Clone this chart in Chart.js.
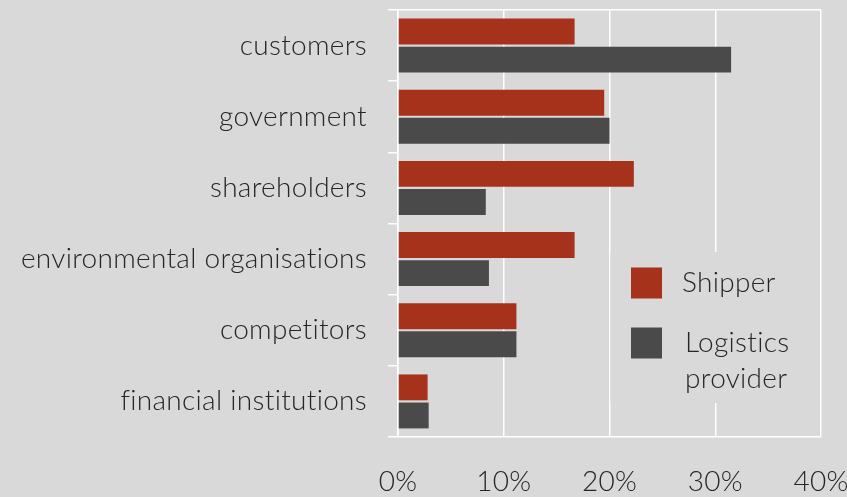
<!DOCTYPE html>
<html>
<head>
<meta charset="utf-8">
<script src="https://cdn.jsdelivr.net/npm/chart.js@4/dist/chart.umd.min.js"></script>
<style>
  html, body { margin: 0; padding: 0; background: #d9d9d9; }
  #wrap { width: 847px; height: 497px; }
</style>
</head>
<body>
<div id="wrap"><canvas id="chart"></canvas></div>
<script>
const categories = ['customers', 'government', 'shareholders', 'environmental organisations', 'competitors', 'financial institutions'];
const shipper = [16.7, 19.5, 22.3, 16.7, 11.2, 2.8];
const logistics = [31.5, 20.0, 8.3, 8.6, 11.2, 2.9];
const seriesNames = ['Shipper', 'Logistics provider'];
const xTicks = [0, 10, 20, 30, 40];

const FONT = 'Lato, "Open Sans", sans-serif';
const TEXT = '#262626';

// a little letter spacing keeps Lato from joining "fi"/"ti" into ligatures
const noLigatures = {
    id: 'noLigatures',
    beforeDraw(chart) { chart.ctx.letterSpacing = '0.3px'; }
};

// legend drawn as a box over the plot, like the original
const boxLegend = {
    id: 'boxLegend',
    afterDraw(chart) {
        const ctx = chart.ctx;
        const x = chart.scales.x;
        const left = x.getPixelForValue(20) + 1;
        const right = x.getPixelForValue(40) - 1;
        ctx.save();
        ctx.fillStyle = '#d9d9d9';
        ctx.fillRect(left, 252, right - left, 151);
        ctx.font = '300 28px ' + FONT;
        ctx.fillStyle = TEXT;
        ctx.textBaseline = 'middle';
        const rows = [283, 343];
        chart.data.datasets.forEach((ds, i) => {
            ctx.fillStyle = ds.backgroundColor;
            ctx.fillRect(631, rows[i] - 15.5, 31, 31);
            ctx.fillStyle = TEXT;
            const words = i === 0 ? [ds.label] : ds.label.split(' ');
            words.forEach((w, j) => ctx.fillText(w, i === 0 ? 682 : 685, rows[i] + j * 36));
        });
        ctx.restore();
    }
};

new Chart(document.getElementById('chart'), {
    type: 'bar',
    data: {
        labels: categories,
        datasets: [
            { label: seriesNames[0], data: shipper, backgroundColor: '#a6321c' },
            { label: seriesNames[1], data: logistics, backgroundColor: '#4a4a4a' }
        ]
    },
    options: {
        indexAxis: 'y',
        responsive: true,
        maintainAspectRatio: false,
        animation: false,
        layout: { padding: { top: 10, right: 26, left: 0, bottom: 0 } },
        datasets: { bar: { categoryPercentage: 0.79, barPercentage: 0.92 } },
        plugins: {
            legend: { display: false },
            tooltip: { enabled: false }
        },
        scales: {
            x: {
                min: 0,
                max: 40,
                afterBuildTicks: s => { s.ticks = xTicks.map(v => ({ value: v })); },
                afterFit: s => { s.height = 60; s.paddingLeft = 0; s.paddingRight = 0; },
                grid: { color: '#ffffff', lineWidth: 1.5, drawTicks: false },
                border: { color: '#ffffff', width: 1.5 },
                ticks: {
                    padding: 28,
                    color: TEXT,
                    font: { family: FONT, size: 28, weight: '300' },
                    callback: v => v + '%'
                }
            },
            y: {
                afterFit: s => { s.width = 398; s.paddingTop = 0; s.paddingBottom = 0; },
                grid: {
                    offset: true,
                    lineWidth: 1.5,
                    tickLength: 10,
                    tickColor: '#ffffff',
                    color: c => (c.index === 0 || c.index === categories.length) ? '#ffffff' : 'rgba(0,0,0,0)'
                },
                border: { color: '#ffffff', width: 1.5 },
                ticks: {
                    padding: 21,
                    color: TEXT,
                    font: { family: FONT, size: 28, weight: '300' }
                }
            }
        }
    },
    plugins: [noLigatures, boxLegend]
});
</script>
</body>
</html>
